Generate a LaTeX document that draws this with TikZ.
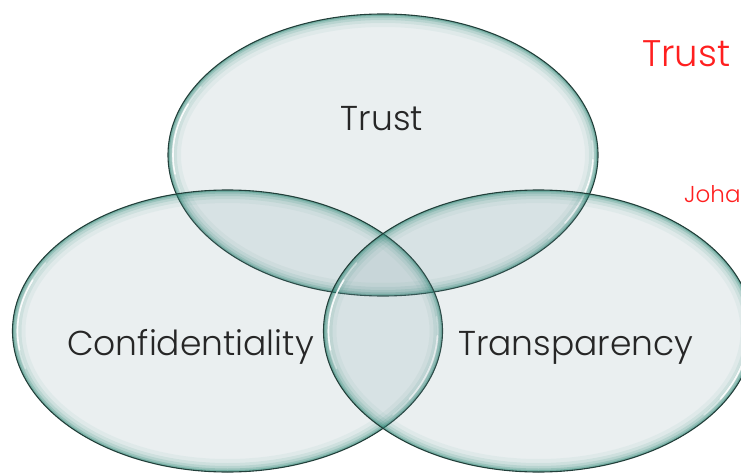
\documentclass[tikz,border=0pt]{standalone}
\usepackage{fontspec}
\setmainfont{Poppins Light}
\definecolor{bubblefill}{HTML}{6F949B}
\definecolor{rimteal}{HTML}{23836F}
\definecolor{rimline}{HTML}{223F3A}
\definecolor{labelgrey}{HTML}{262626}
\definecolor{notered}{HTML}{FF1F1F}
\tikzset{
  pics/bubble/.style={code={
    % translucent body, so overlaps darken
    \fill[bubblefill, fill opacity=0.15] (0,0) ellipse [x radius=215, y radius=141];
    % inner glow along the rim
    \begin{scope}
      \clip (0,0) ellipse [x radius=215, y radius=141];
      \foreach \w/\o in {26/0.05, 18/0.09, 12/0.13, 7/0.2, 3.5/0.3}
        \draw[rimteal, line width=\w pt, opacity=\o] (0,0) ellipse [x radius=215, y radius=141];
    \end{scope}
    % glassy highlights
    \foreach \a/\b/\o in {150/196/0.4, 158/188/0.85}
      \draw[white, line width=1.6pt, opacity=\o, line cap=round]
        (\a:210 and 136) arc[start angle=\a, end angle=\b, x radius=210, y radius=136];
    \foreach \a/\b/\o in {6/-38/0.4, -2/-30/0.85}
      \draw[white, line width=1.6pt, opacity=\o, line cap=round]
        (\a:210 and 136) arc[start angle=\a, end angle=\b, x radius=210, y radius=136];
    % outline
    \draw[rimline, line width=1.1pt] (0,0) ellipse [x radius=215, y radius=141];
  }},
  label/.style={text=labelgrey, font=\fontsize{34.5}{40}\selectfont, inner sep=0pt},
  note/.style={text=notered, inner sep=0pt, anchor=base west}
}
\begin{document}
\begin{tikzpicture}[x=1pt, y=1pt]
  \useasboundingbox (0,0) rectangle (741,472);
  \coordinate (ctrust) at (383,317);
  \coordinate (cconf) at (227.5,141);
  \coordinate (ctrans) at (538.5,141);

  \pic at (ctrust) {bubble};
  \pic at (cconf) {bubble};
  \pic at (ctrans) {bubble};

  \node[label, anchor=base] (trust) at (382,341) {Trust};
  \node[label, anchor=base west] (conf) at (67,117) {Confidentiality};
  \node[label, anchor=base west] (trans) at (458,117) {Transparency};

  \node[note, font=\fontsize{37}{42}\selectfont] (title) at (642,405) {Trust};
  \node[note, font=\fontsize{23}{28}\selectfont] (author) at (684,270) {Joha};
\end{tikzpicture}
\end{document}
